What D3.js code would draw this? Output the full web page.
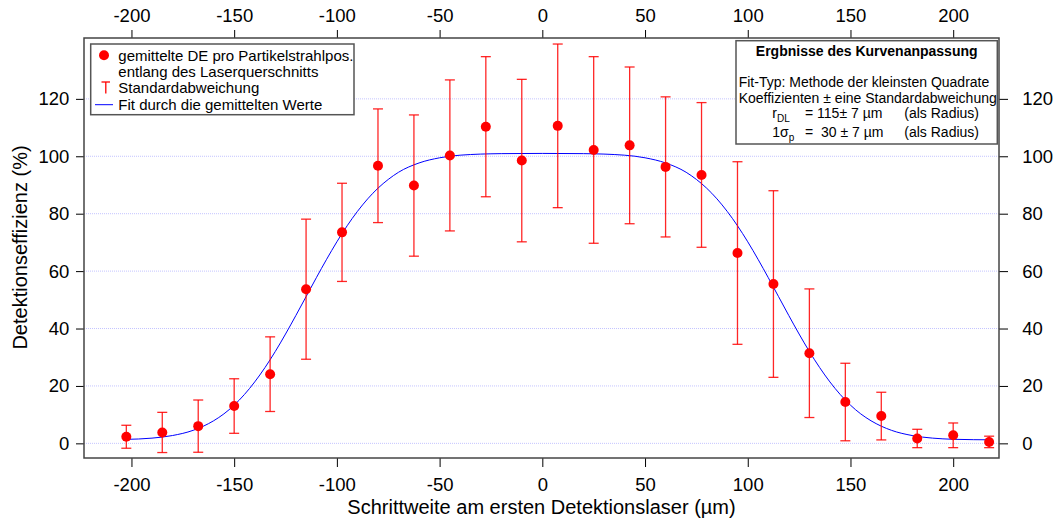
<!DOCTYPE html>
<html>
<head>
<meta charset="utf-8">
<script src="https://cdn.jsdelivr.net/npm/d3@7"></script>
<style>
  html, body { margin: 0; padding: 0; background: #fff; }
  svg { display: block; font-family: "Liberation Sans", Arial, sans-serif; }
</style>
</head>
<body>
<svg id="chart" width="1058" height="524"></svg>
<script>
// ---- data ----
const positions = [-202.5, -185, -167.5, -150, -132.5, -115, -97.5, -80, -62.5, -45, -27.5, -10, 7.5,
                   25, 42.5, 60, 77.5, 95, 112.5, 130, 147.5, 165, 182.5, 200, 217.5];
const meanDE = [2.3, 3.8, 6.0, 13.0, 24.1, 53.7, 73.5, 96.7, 89.8, 100.3, 110.3, 98.5, 110.6,
                102.2, 103.8, 96.3, 93.5, 66.3, 55.5, 31.4, 14.4, 9.5, 1.7, 2.8, 0.5];
const stdDev = [4.0, 7.0, 9.1, 9.5, 13.0, 24.4, 17.1, 19.8, 24.6, 26.3, 24.4, 28.3, 28.5,
                32.5, 27.3, 24.4, 25.2, 31.8, 32.5, 22.4, 13.5, 8.3, 3.2, 4.3, 2.0];
const fitX = [-203, -190, -180, -170, -165, -160, -155, -150, -145, -140, -135, -130, -125, -120, -115,
              -110, -105, -100, -95, -90, -85, -80, -75, -70, -60, -50, -40, -20, 0,
              20, 40, 50, 60, 70, 75, 80, 85, 90, 95, 100, 105, 110, 115, 120, 125, 130,
              135, 140, 145, 150, 155, 160, 165, 170, 180, 190, 200, 210, 219];
const fitY = [1.38, 1.82, 2.73, 4.53, 5.98, 7.87, 10.27, 13.31, 17.03, 21.40, 26.40, 31.99, 38.08, 44.50, 51.10,
              57.70, 64.12, 70.21, 75.80, 80.80, 85.17, 88.89, 91.93, 94.43, 97.67, 99.47, 100.38, 100.92, 101.0,
              100.92, 100.38, 99.47, 97.67, 94.43, 91.93, 88.89, 85.17, 80.80, 75.80, 70.21, 64.12, 57.70, 51.10, 44.50, 38.08, 31.99,
              26.40, 21.40, 17.03, 13.31, 10.27, 7.87, 5.98, 4.53, 2.73, 1.82, 1.42, 1.28, 1.23];
const xTicks = [-200, -150, -100, -50, 0, 50, 100, 150, 200];
const yTicks = [0, 20, 40, 60, 80, 100, 120];
const legendLabels = ["gemittelte DE pro Partikelstrahlpos.", "entlang des Laserquerschnitts",
                      "Standardabweichung", "Fit durch die gemittelten Werte"];
const xTitle = "Schrittweite am ersten Detektionslaser (µm)";
const yTitle = "Detektionseffizienz (%)";

// ---- layout ----
const L = 84, R = 999, T = 38, B = 458;
const svg = d3.select("#chart");
const x = d3.scaleLinear().domain([-223.1, 222.3]).range([L, R]);
const y = d3.scaleLinear().domain([-5.1, 141.2]).range([B, T]);
const tickFont = 18.5;

// grid
svg.append("g").selectAll("line").data(yTicks).join("line")
  .attr("x1", L).attr("x2", R)
  .attr("y1", d => y(d)).attr("y2", d => y(d))
  .attr("stroke", "#c4c4ff").attr("stroke-width", 1).attr("stroke-dasharray", "1,1");

// axes
function styleAxis(g) {
  g.select(".domain").remove();
  g.selectAll(".tick line").attr("stroke", "#000").attr("stroke-width", 1);
  g.selectAll(".tick text").attr("font-size", tickFont).attr("fill", "#000")
    .attr("font-family", '"Liberation Sans", Arial, sans-serif');
}
svg.append("g").attr("transform", `translate(${L},0)`)
  .call(d3.axisLeft(y).tickValues(yTicks).tickSize(8).tickPadding(6.7).tickFormat(d3.format("d")))
  .call(styleAxis);
svg.append("g").attr("transform", `translate(${R},0)`)
  .call(d3.axisRight(y).tickValues(yTicks).tickSize(9).tickPadding(14.3).tickFormat(d3.format("d")))
  .call(styleAxis);
svg.append("g").attr("transform", `translate(0,${B})`)
  .call(d3.axisBottom(x).tickValues(xTicks).tickSize(9).tickPadding(10.5).tickFormat(d3.format("d")))
  .call(styleAxis);
svg.append("g").attr("transform", `translate(0,${T})`)
  .call(d3.axisTop(x).tickValues(xTicks).tickSize(8).tickPadding(8.5).tickFormat(d3.format("d")))
  .call(styleAxis);
svg.selectAll(".tick text").text(function() { return this.textContent.replace("−", "-"); });

// frame
svg.append("rect").attr("x", L).attr("y", T).attr("width", R - L).attr("height", B - T)
  .attr("fill", "none").attr("stroke", "#444").attr("stroke-width", 1.5);

// axis titles
svg.append("text").attr("x", (L + R) / 2).attr("y", 514).attr("text-anchor", "middle")
  .attr("font-size", 20).text(xTitle);
svg.append("text").attr("transform", "translate(27,247.5) rotate(-90)").attr("text-anchor", "middle")
  .attr("font-size", 20).text(yTitle);

// fit line
const pts = fitX.map((v, i) => [v, fitY[i]]);
svg.append("path").datum(pts)
  .attr("d", d3.line().x(d => x(d[0])).y(d => y(d[1])).curve(d3.curveMonotoneX))
  .attr("fill", "none").attr("stroke", "#0000ff").attr("stroke-width", 1);

// error bars
const data = positions.map((p, i) => ({ p, v: meanDE[i], e: stdDev[i] }));
const eb = svg.append("g").attr("stroke", "#ff0000").attr("stroke-width", 1.3).attr("stroke-opacity", 0.85);
eb.selectAll("line.v").data(data).join("line").attr("class", "v")
  .attr("x1", d => x(d.p)).attr("x2", d => x(d.p))
  .attr("y1", d => y(d.v + d.e)).attr("y2", d => y(d.v - d.e));
eb.selectAll("line.t").data(data).join("line").attr("class", "t")
  .attr("x1", d => x(d.p) - 5).attr("x2", d => x(d.p) + 5)
  .attr("y1", d => y(d.v + d.e)).attr("y2", d => y(d.v + d.e));
eb.selectAll("line.b").data(data).join("line").attr("class", "b")
  .attr("x1", d => x(d.p) - 5).attr("x2", d => x(d.p) + 5)
  .attr("y1", d => y(d.v - d.e)).attr("y2", d => y(d.v - d.e));

// points
svg.append("g").selectAll("circle").data(data).join("circle")
  .attr("cx", d => x(d.p)).attr("cy", d => y(d.v)).attr("r", 5)
  .attr("fill", "#ff0000");

// legend
const lg = svg.append("g");
lg.append("rect").attr("x", 90.7).attr("y", 44).attr("width", 263.3).attr("height", 70.7)
  .attr("fill", "#fff").attr("stroke", "#555").attr("stroke-width", 1.5);
lg.append("circle").attr("cx", 104).attr("cy", 55.3).attr("r", 5).attr("fill", "#ff0000");
lg.append("line").attr("x1", 101.5).attr("x2", 110).attr("y1", 82).attr("y2", 82).attr("stroke", "#ff0000").attr("stroke-width", 1.3);
lg.append("line").attr("x1", 105.8).attr("x2", 105.8).attr("y1", 82).attr("y2", 93.5).attr("stroke", "#ff0000").attr("stroke-width", 1.3);
lg.append("line").attr("x1", 95).attr("x2", 113).attr("y1", 104.7).attr("y2", 104.7).attr("stroke", "#0000ff").attr("stroke-width", 1);
lg.selectAll("text").data(legendLabels).join("text")
  .attr("x", 118.3).attr("y", (d, i) => 60.5 + i * 16.4)
  .attr("font-size", 15).attr("fill", "#000").text(d => d);

// fit results box
const fb = svg.append("g").attr("font-size", 14).attr("fill", "#000");
fb.append("rect").attr("x", 736).attr("y", 40.7).attr("width", 261.3).attr("height", 103.3)
  .attr("fill", "#fff").attr("stroke", "#555").attr("stroke-width", 1.5);
fb.append("text").attr("x", 866.7).attr("y", 55.5).attr("text-anchor", "middle")
  .attr("font-weight", "bold").text("Ergbnisse des Kurvenanpassung");
fb.append("text").attr("x", 738.7).attr("y", 87).text("Fit-Typ: Methode der kleinsten Quadrate");
fb.append("text").attr("x", 738.7).attr("y", 102.5).text("Koeffizienten ± eine Standardabweichung");
const r1 = fb.append("text").attr("x", 772.3).attr("y", 118);
r1.append("tspan").text("r");
r1.append("tspan").attr("font-size", 10).attr("dy", 4).text("DL");
fb.append("text").attr("x", 805).attr("y", 118).text("= 115± 7 µm");
fb.append("text").attr("x", 904.3).attr("y", 118).text("(als Radius)");
const r2 = fb.append("text").attr("x", 772.3).attr("y", 137);
r2.append("tspan").text("1σ");
r2.append("tspan").attr("font-size", 10).attr("dy", 4).text("p");
fb.append("text").attr("x", 805).attr("y", 137).text("=");
fb.append("text").attr("x", 821).attr("y", 137).text("30 ± 7 µm");
fb.append("text").attr("x", 904.3).attr("y", 137).text("(als Radius)");
</script>
</body>
</html>
